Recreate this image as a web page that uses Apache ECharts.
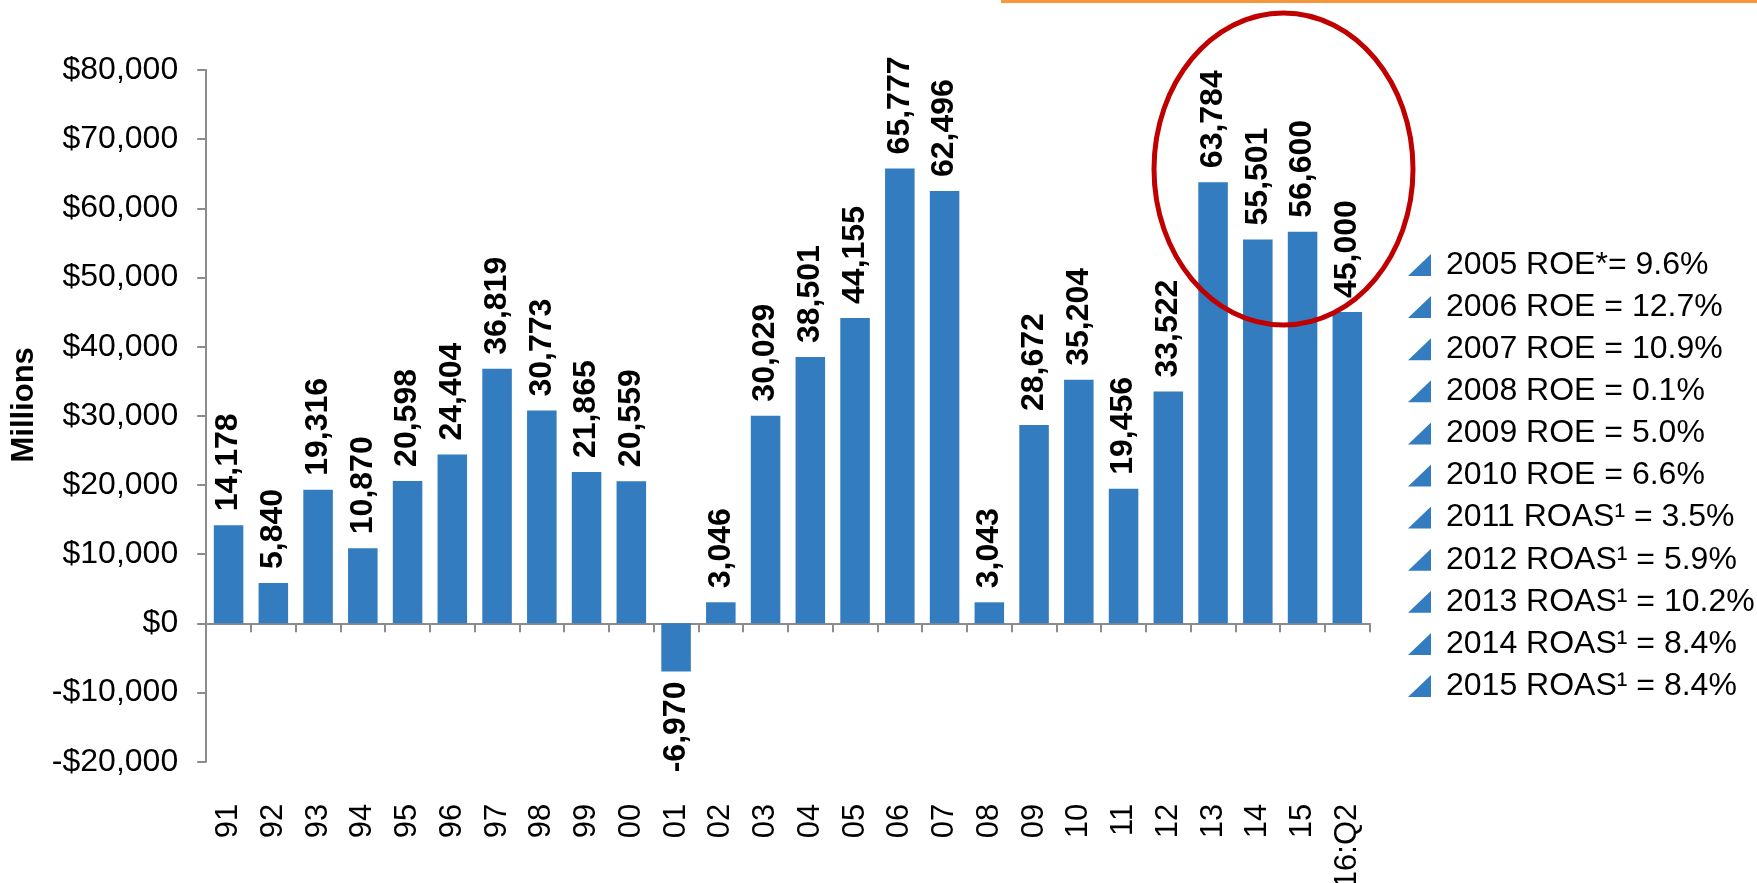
<!DOCTYPE html>
<html>
<head>
<meta charset="utf-8">
<script src="https://cdn.jsdelivr.net/npm/echarts@6/dist/echarts.min.js"></script>
<style>
  html, body { margin: 0; padding: 0; background: #ffffff; }
  #chart { width: 1757px; height: 883px; }
</style>
</head>
<body>
<div id="chart"></div>
<script>
// Annual earnings, $ millions
const years = ['91', '92', '93', '94', '95', '96', '97', '98', '99', '00',
  '01', '02', '03', '04', '05', '06', '07', '08', '09', '10',
  '11', '12', '13', '14', '15', '16:Q2'];
const earnings = [14178, 5840, 19316, 10870, 20598, 24404, 36819, 30773, 21865, 20559,
  -6970, 3046, 30029, 38501, 44155, 65777, 62496, 3043, 28672, 35204,
  19456, 33522, 63784, 55501, 56600, 45000];

// Return notes listed beside the bars
const returnNotes = [
  '2005 ROE*= 9.6%',
  '2006 ROE = 12.7%',
  '2007 ROE = 10.9%',
  '2008 ROE = 0.1%',
  '2009 ROE = 5.0%',
  '2010 ROE = 6.6%',
  '2011 ROAS¹ = 3.5%',
  '2012 ROAS¹ = 5.9%',
  '2013 ROAS¹ = 10.2%',
  '2014 ROAS¹ = 8.4%',
  '2015 ROAS¹ = 8.4%'
];

const FONT = "'Liberation Sans', Arial, Helvetica, sans-serif";
const BLUE = '#337CBF';
const AXIS_GRAY = '#8C8C8C';

const fmt = v => Math.abs(v).toLocaleString('en-US');

const barData = earnings.map(v => v < 0
  ? { value: v, label: { position: 'bottom', align: 'right', distance: 10 } }
  : v);

// Note list: small blue corner triangles followed by text
const noteGraphics = [];
returnNotes.forEach((t, i) => {
  const y = 265 + i * 42.1;
  noteGraphics.push({
    type: 'polygon',
    z: 50,
    shape: { points: [[1408, y + 11], [1431, y + 11], [1431, y - 11]] },
    style: { fill: BLUE }
  });
  noteGraphics.push({
    type: 'text',
    z: 50,
    x: 1446,
    y: y,
    style: {
      text: t,
      fill: '#000',
      font: '32px ' + FONT,
      textVerticalAlign: 'middle',
      textAlign: 'left'
    }
  });
});

const chart = echarts.init(document.getElementById('chart'), null, { renderer: 'canvas' });

chart.setOption({
  backgroundColor: '#ffffff',
  animation: false,
  grid: {
    left: 206.2, right: 387.3, top: 70, bottom: 121.3,
    containLabel: false,
    outerBoundsMode: 'none'
  },
  xAxis: {
    type: 'category',
    data: years,
    axisLine: { onZero: true, lineStyle: { color: AXIS_GRAY, width: 2 } },
    axisTick: { show: true, length: 9, lineStyle: { color: AXIS_GRAY, width: 2 } },
    axisLabel: {
      rotate: 90,
      margin: 42,
      interval: 0,
      color: '#000',
      fontSize: 31,
      fontFamily: FONT
    },
    splitLine: { show: false }
  },
  yAxis: {
    type: 'value',
    min: -20000,
    max: 80000,
    interval: 10000,
    name: 'Millions',
    nameLocation: 'middle',
    nameRotate: 90,
    nameGap: 166,
    nameTextStyle: {
      color: '#000',
      fontSize: 31,
      fontWeight: 'bold',
      fontFamily: FONT,
      padding: [0, 0, 0, 22]
    },
    axisLine: { show: true, lineStyle: { color: AXIS_GRAY, width: 2 } },
    axisTick: { show: true, length: 9, lineStyle: { color: AXIS_GRAY, width: 2 } },
    axisLabel: {
      margin: 28,
      color: '#000',
      fontSize: 32,
      fontFamily: FONT,
      formatter: v => (v < 0 ? '-$' : '$') + fmt(v)
    },
    splitLine: { show: false }
  },
  series: [{
    type: 'bar',
    data: barData,
    barWidth: '66%',
    itemStyle: { color: BLUE },
    label: {
      show: true,
      position: 'top',
      rotate: 90,
      align: 'left',
      verticalAlign: 'middle',
      distance: 14,
      color: '#000',
      fontSize: 32,
      fontWeight: 'bold',
      fontFamily: FONT,
      formatter: p => (p.value < 0 ? '-' : '') + fmt(p.value)
    }
  }],
  graphic: [
    // orange rule along the top edge
    {
      type: 'rect',
      z: 60,
      shape: { x: 1001, y: 0, width: 756, height: 3 },
      style: { fill: '#F7963B' }
    },
    // red highlight ring around the latest years
    {
      type: 'ellipse',
      z: 60,
      shape: { cx: 1283.5, cy: 169, rx: 129.5, ry: 156 },
      style: { fill: 'none', stroke: '#C00000', lineWidth: 5 }
    }
  ].concat(noteGraphics)
});
</script>
</body>
</html>
